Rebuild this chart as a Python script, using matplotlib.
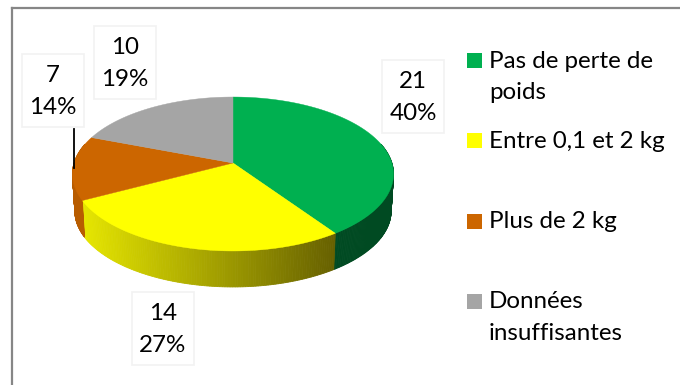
import numpy as np
import matplotlib
matplotlib.use("Agg")
import matplotlib.pyplot as plt
from matplotlib.patches import Polygon, Rectangle
from matplotlib.colors import to_rgb

categories = ["Pas de perte de\npoids", "Entre 0,1 et 2 kg", "Plus de 2 kg", "Données\ninsuffisantes"]
values = [21, 14, 7, 10]
percents = ["40%", "27%", "14%", "19%"]
top_colors = ["#00B050", "#FFFF00", "#CC6600", "#A5A5A5"]

plt.rcParams["font.family"] = ["Lato", "DejaVu Sans"]
W, H = 680, 385
fig = plt.figure(figsize=(W / 100, H / 100), dpi=100)
ax = fig.add_axes([0, 0, 1, 1])
ax.set_xlim(0, W)
ax.set_ylim(H, 0)
ax.axis("off")

# Perspective projection of the pie disc
CX, CY = 233.0, 163.0
A, B, K = 158.9, 75.4, 1 / 7
DEPTH, SHRINK = 37.3, 0.985
FS = 17.4


def project(theta, r=1.0, bottom=False):
    u, v = r * np.sin(theta), r * np.cos(theta)
    w = 1 + K * v
    s, dy = (SHRINK, DEPTH) if bottom else (1.0, 0.0)
    return CX + s * A * u / w, CY + dy - s * B * v / w


fractions = np.array(values, dtype=float) / sum(values)
edges = np.concatenate([[0], np.cumsum(fractions)]) * 2 * np.pi


def mix(c1, c2, t):
    a, b = np.array(to_rgb(c1)), np.array(to_rgb(c2))
    return tuple(a + (b - a) * t)


# Side wall: only the front part is visible
side_styles = [("#004A22", "#004A22"), ("#666000", "#E6E600"), ("#B85C00", "#B85C00"), ("#808080", "#808080")]
for i in range(4):
    lo, hi = max(edges[i], np.radians(75)), min(edges[i + 1], np.radians(285))
    if hi <= lo:
        continue
    steps = np.linspace(lo, hi, 121)
    for j in range(len(steps) - 1):
        a0, a1 = steps[j], steps[j + 1]
        tx, ty = project(np.array([a0, a1]))
        bx, by = project(np.array([a0, a1]), bottom=True)
        t = (tx.mean() - project(lo)[0]) / (project(hi)[0] - project(lo)[0] + 1e-9)
        col = mix(side_styles[i][0], side_styles[i][1], t)
        ax.add_patch(Polygon(np.c_[np.r_[tx, bx[::-1]], np.r_[ty, by[::-1]]],
                             closed=True, fc=col, ec=col, lw=0.6, zorder=2))

# Top face
for i in range(4):
    th = np.linspace(edges[i], edges[i + 1], 200)
    x, y = project(th)
    ax.add_patch(Polygon(np.c_[np.r_[CX, x], np.r_[CY, y]], closed=True,
                         fc=top_colors[i], ec=top_colors[i], lw=0.3, zorder=3))

# Chart frame
for xs, ys in [([12, 12], [8, H]), ([12, W], [8, 8])]:
    ax.plot(xs, ys, color="#868686", lw=1.6, solid_capstyle="projecting", zorder=1)

# Data labels
label_boxes = [(382, 60), (132, 292), (22, 54), (94, 26)]
BW, BH = 62, 73
for (bx, by), val, pct in zip(label_boxes, values, percents):
    ax.add_patch(Rectangle((bx, by), BW, BH, fc="white", ec="#F2F2F2", lw=1.2, zorder=4))
    ax.text(bx + BW / 2, by + 22, str(val), ha="center", va="center", fontsize=FS, color="black", zorder=5)
    ax.text(bx + BW / 2, by + 54, pct, ha="center", va="center", fontsize=FS, color="black", zorder=5)

# Leader line for the "7" label
ax.plot([73.5, 73.5], [129, 168], color="black", lw=1.3, zorder=5)

# Legend
legend_y = [60.5, 140.5, 221.5, 301.5]
for name, col, ly in zip(categories, top_colors, legend_y):
    ax.add_patch(Rectangle((467, ly - 7.5), 15, 15, fc=col, ec="none", zorder=4))
    for k, line in enumerate(name.split("\n")):
        ax.text(489, ly + 0.5 + k * 31.5, line, ha="left", va="center", fontsize=FS, color="black", zorder=5)

fig.savefig("out.png", dpi=100)
